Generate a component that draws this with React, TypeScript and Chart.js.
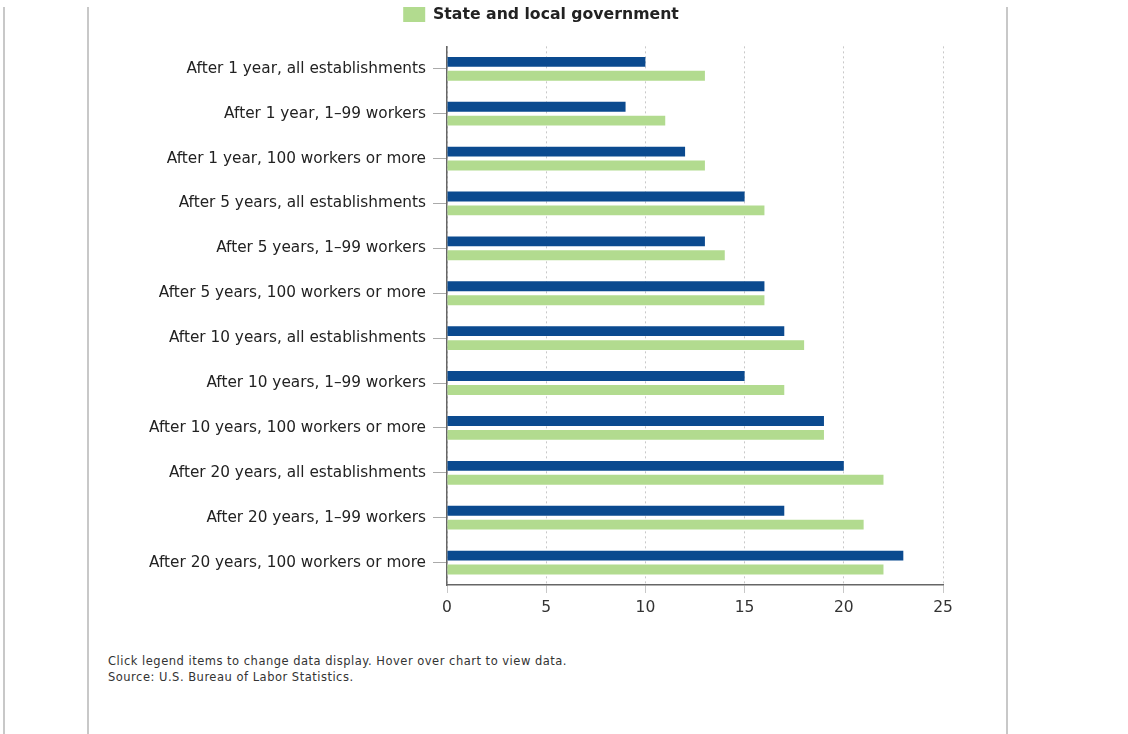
import React, { useEffect, useRef } from "react";
import { Chart, registerables } from "chart.js";

Chart.register(...registerables);

const categories: string[] = [
  "After 1 year, all establishments",
  "After 1 year, 1–99 workers",
  "After 1 year, 100 workers or more",
  "After 5 years, all establishments",
  "After 5 years, 1–99 workers",
  "After 5 years, 100 workers or more",
  "After 10 years, all establishments",
  "After 10 years, 1–99 workers",
  "After 10 years, 100 workers or more",
  "After 20 years, all establishments",
  "After 20 years, 1–99 workers",
  "After 20 years, 100 workers or more",
];

const privateIndustry: number[] = [10, 9, 12, 15, 13, 16, 17, 15, 19, 20, 17, 23];
const stateLocalGov: number[] = [13, 11, 13, 16, 14, 16, 18, 17, 19, 22, 21, 22];

const seriesNames: string[] = ["Private industry", "State and local government"];
const xTicks: number[] = [0, 5, 10, 15, 20, 25];

const footerLines: string[] = [
  "Click legend items to change data display. Hover over chart to view data.",
  "Source: U.S. Bureau of Labor Statistics.",
];

const BLUE = "#0b4a8f";
const GREEN = "#b2db8f";

const legendSpacer = {
  id: "legendSpacer",
  beforeInit(chart: any) {
    const legend = chart.legend;
    if (!legend) return;
    const orig = legend.fit;
    legend.fit = function () {
      orig.call(this);
      this.height += 14;
    };
  },
};

function BarChart() {
  const ref = useRef<HTMLCanvasElement | null>(null);
  useEffect(() => {
    if (!ref.current) return;
    const chart = new Chart(ref.current, {
      type: "bar",
      data: {
        labels: categories,
        datasets: [
          {
            label: seriesNames[0],
            data: privateIndustry,
            backgroundColor: BLUE,
            borderWidth: 0,
            barPercentage: 0.71,
            categoryPercentage: 0.62,
          },
          {
            label: seriesNames[1],
            data: stateLocalGov,
            backgroundColor: GREEN,
            borderWidth: 0,
            barPercentage: 0.71,
            categoryPercentage: 0.62,
          },
        ],
      },
      options: {
        indexAxis: "y",
        animation: false,
        responsive: false,
        maintainAspectRatio: false,
        layout: { padding: { left: 0, right: 38, top: 0, bottom: 0 } },
        plugins: {
          tooltip: { enabled: true },
          legend: {
            display: true,
            position: "top",
            align: "center",
            labels: {
              boxWidth: 22,
              boxHeight: 15,
              padding: 6.65,
              color: "#222",
              font: { family: "DejaVu Sans", size: 15.7, weight: "bold" },
              filter: (item: any) => item.datasetIndex === 1,
            },
          },
        },
        scales: {
          x: {
            min: 0,
            max: 25,
            afterBuildTicks: (scale: any) => {
              scale.ticks = xTicks.map((v) => ({ value: v }));
            },
            ticks: {
              color: "#333",
              font: { family: "DejaVu Sans", size: 15.5 },
              padding: 6,
            },
            grid: {
              color: "#c8c8c8",
              lineWidth: 1,
              tickLength: 8,
              drawTicks: true,
            },
            border: { display: true, color: "#666", width: 1.5, dash: [2, 3] },
            afterFit: (scale: any) => {
              scale.height = 40;
            },
          },
          y: {
            grid: {
              display: true,
              drawOnChartArea: false,
              drawTicks: true,
              tickLength: 14,
              color: "#aaa",
              offset: false,
            },
            border: { display: true, color: "#666", width: 1.5 },
            ticks: {
              color: "#222",
              font: { family: "DejaVu Sans", size: 15.3 },
              padding: 7,
            },
            afterFit: (scale: any) => {
              scale.width = 308;
            },
          },
        },
      },
      plugins: [legendSpacer],
    });
    return () => chart.destroy();
  }, []);
  return (
    <canvas
      ref={ref}
      width={842}
      height={625}
      style={{ position: "absolute", left: 139, top: 0, width: 842, height: 625 }}
    />
  );
}

export default function App() {
  const vline = (x: number): React.CSSProperties => ({
    position: "absolute",
    left: x,
    top: 7,
    width: 2,
    height: 727,
    background: "#c8c8c8",
  });
  return (
    <div
      style={{
        position: "absolute",
        left: 0,
        top: 0,
        width: 1128,
        height: 734,
        background: "#fff",
        overflow: "hidden",
      }}
    >
      <div style={vline(3)} />
      <div style={vline(87)} />
      <div style={vline(1006)} />
      <BarChart />
      <div
        style={{
          position: "absolute",
          left: 108,
          top: 653,
          fontFamily: "DejaVu Sans",
          fontSize: 11.5,
          letterSpacing: "0.5px",
          lineHeight: "16px",
          color: "#333",
          whiteSpace: "nowrap",
        }}
      >
        {footerLines.map((l, i) => (
          <div key={i}>{l}</div>
        ))}
      </div>
    </div>
  );
}
